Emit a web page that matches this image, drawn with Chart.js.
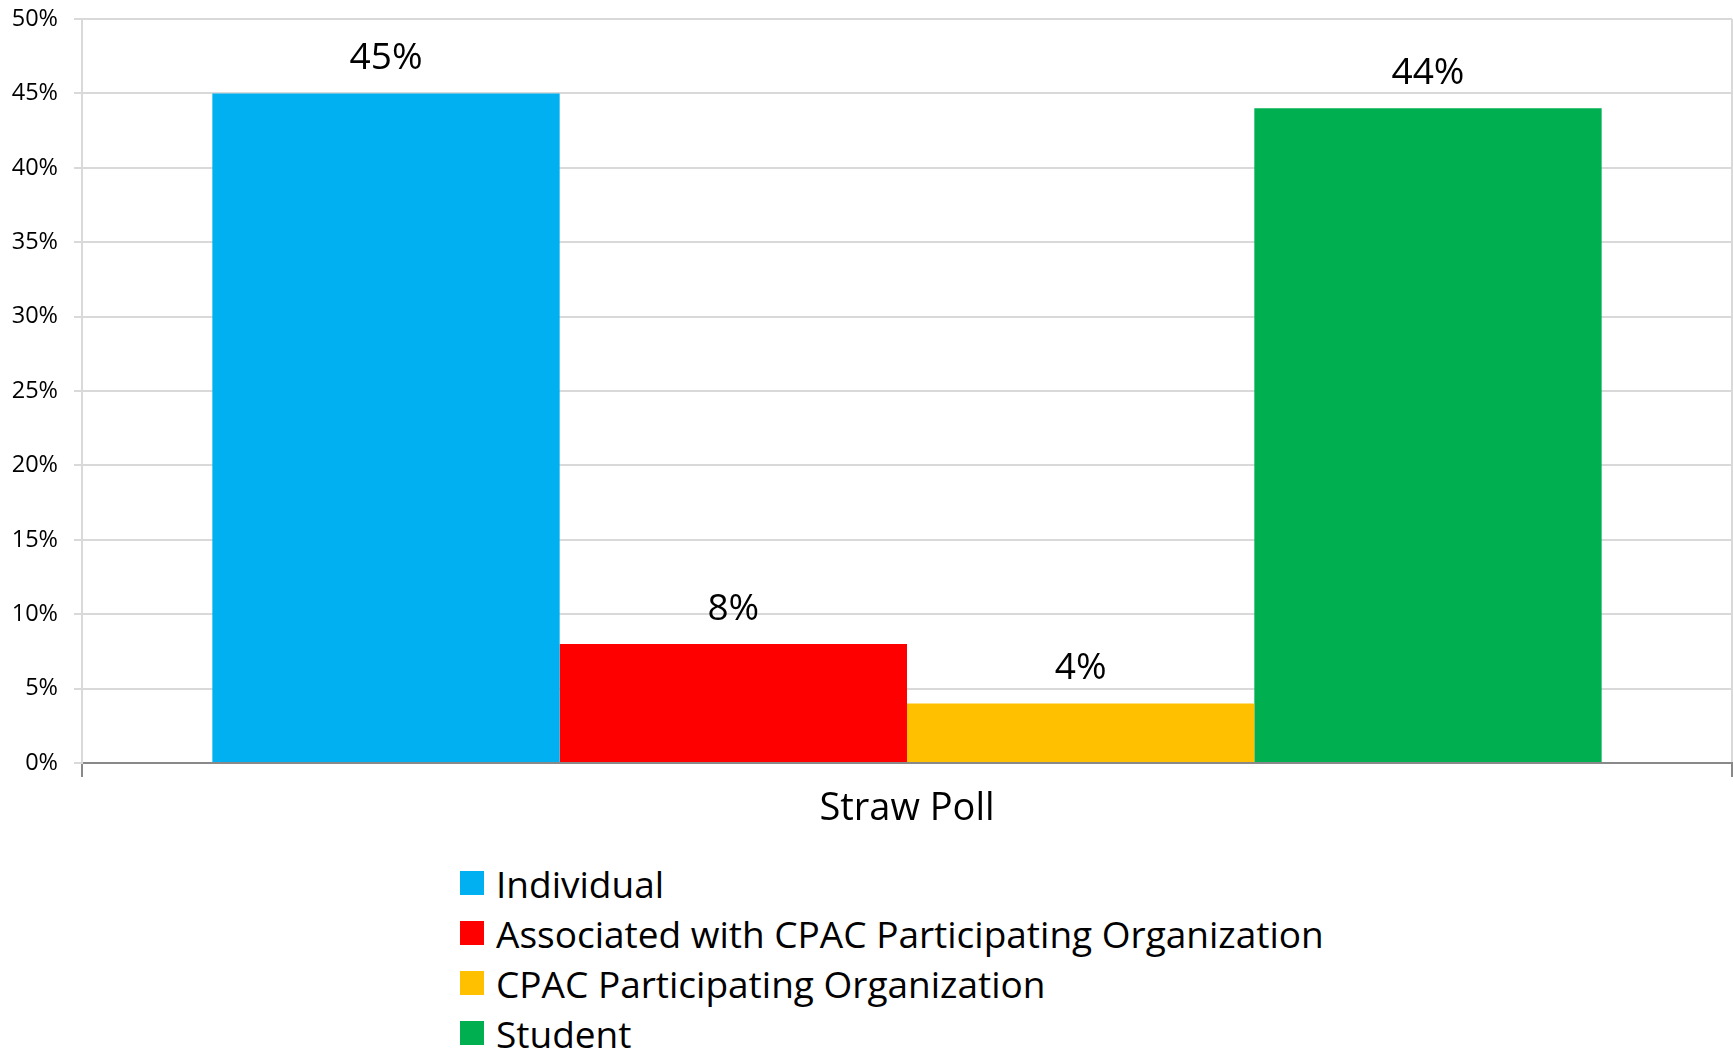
<!DOCTYPE html>
<html>
<head>
<meta charset="utf-8">
<script src="https://cdn.jsdelivr.net/npm/chart.js@4"></script>
<style>
    html, body { margin: 0; padding: 0; background: #fff; }
    body { width: 1733px; height: 1052px; position: relative; overflow: hidden; font-family: 'Open Sans', sans-serif; }
    #wrap { position: absolute; left: 0; top: -11px; width: 1733px; height: 844px; }
    #legend { position: absolute; left: 460px; top: 858px; }
    .legend-item { height: 50px; display: flex; align-items: center; font-size: 37px; color: #000; white-space: nowrap; }
    .legend-box { width: 24px; height: 24px; margin-right: 12px; flex: none; }
</style>
</head>
<body>
<div id="wrap"><canvas id="pollChart"></canvas></div>
<div id="legend"></div>
<script>
// Chart data
const CATEGORIES = ['Straw Poll'];
const SERIES_NAMES = [
    'Individual',
    'Associated with CPAC Participating Organization',
    'CPAC Participating Organization',
    'Student'
];
const SERIES_VALUES = [45, 8, 4, 44];
const SERIES_COLORS = ['#00B0F0', '#FF0000', '#FFC000', '#00B050'];
const Y_TICKS = [0, 5, 10, 15, 20, 25, 30, 35, 40, 45, 50];

const GRID = '#d9d9d9';
const AXIS = '#898989';

// draws the percentage above each bar
const valueLabels = {
    id: 'valueLabels',
    afterDatasetsDraw(chart) {
        const ctx = chart.ctx;
        ctx.save();
        ctx.font = "37px 'Open Sans'";
        ctx.fillStyle = '#000';
        ctx.textAlign = 'center';
        ctx.textBaseline = 'alphabetic';
        chart.data.datasets.forEach((ds, i) => {
            const bar = chart.getDatasetMeta(i).data[0];
            ctx.fillText(ds.data[0] + '%', bar.x, bar.y - 24);
        });
        ctx.restore();
    }
};

function initChart() {
    const ctx = document.getElementById('pollChart').getContext('2d');
    Chart.defaults.font.family = "'Open Sans', sans-serif";
    Chart.defaults.color = '#000';

    const datasets = SERIES_NAMES.map((name, i) => ({
        label: name,
        data: [SERIES_VALUES[i]],
        backgroundColor: SERIES_COLORS[i],
        borderWidth: 0,
        categoryPercentage: 0.842,
        barPercentage: 1.0
    }));

    new Chart(ctx, {
        type: 'bar',
        data: { labels: CATEGORIES, datasets: datasets },
        plugins: [valueLabels],
        options: {
            responsive: true,
            maintainAspectRatio: false,
            animation: false,
            layout: { padding: { left: 0, right: 1, top: 2, bottom: 0 } },
            plugins: {
                legend: { display: false },
                tooltip: { enabled: false }
            },
            scales: {
                x: {
                    afterFit: (scale) => { scale.height = 70; },
                    grid: { color: GRID, lineWidth: 2, tickColor: AXIS, tickLength: 14 },
                    border: { color: AXIS, width: 2 },
                    ticks: { font: { size: 38 }, color: '#000', padding: 9 }
                },
                y: {
                    min: 0,
                    max: 50,
                    afterFit: (scale) => { scale.width = 82; },
                    afterBuildTicks: (scale) => { scale.ticks = Y_TICKS.map(v => ({ value: v })); },
                    grid: { color: GRID, lineWidth: 2, tickColor: GRID, tickLength: 8 },
                    border: { color: GRID, width: 2 },
                    ticks: { font: { size: 23.5 }, color: '#000', padding: 16, callback: v => v + '%' }
                }
            }
        }
    });

    // legend, one entry per line
    const legend = document.getElementById('legend');
    SERIES_NAMES.forEach((name, i) => {
        const row = document.createElement('div');
        row.className = 'legend-item';
        row.innerHTML = `<span class="legend-box" style="background:${SERIES_COLORS[i]}"></span><span>${name}</span>`;
        legend.appendChild(row);
    });
}

initChart();
</script>
</body>
</html>
